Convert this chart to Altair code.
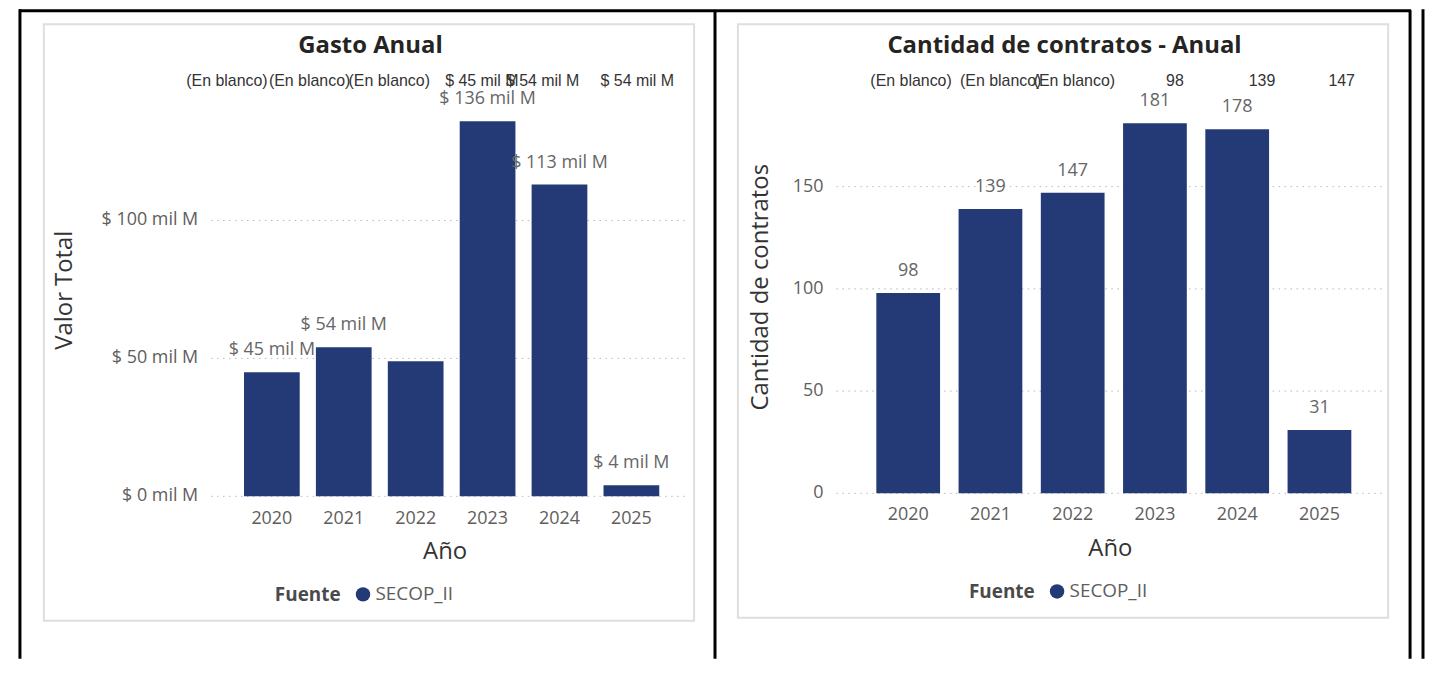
import altair as alt
import pandas as pd

# ---------------- data ----------------
years = ["2020", "2021", "2022", "2023", "2024", "2025"]
gasto = [45, 54, 49, 136, 113, 4]          # valor total, mil M
gasto_labels = ["$ 45 mil M", "$ 54 mil M", "", "$ 136 mil M", "$ 113 mil M", "$ 4 mil M"]
contratos = [98, 139, 147, 181, 178, 31]
contratos_labels = ["98", "139", "147", "181", "178", "31"]
fuente = ["SECOP_II"] * 6
ticks_gasto = [0, 50, 100]
ticks_gasto_labels = ["$ 0 mil M", "$ 50 mil M", "$ 100 mil M"]
ticks_contratos = [0, 50, 100, 150]
ticks_contratos_labels = ["0", "50", "100", "150"]
junk_left = ["(En blanco)", "(En blanco)", "(En blanco)", "$ 45 mil M", "$ 54 mil M", "$ 54 mil M"]
junk_right = ["(En blanco)", "(En blanco)", "(En blanco)", "98", "139", "147"]

# ---------------- style ----------------
W, H = 1424, 652
BAR = "#233a77"
FONT = "Open Sans"
JFONT = "Liberation Sans"
TXT = "#605e5c"
DARK = "#252423"

junk_left_x = [179, 262, 342, 439, 500, 595]
junk_right_x = [866, 956, 1030, 1163, 1246, 1326]

df_left = pd.DataFrame({"Año": years, "Valor": gasto, "Etiqueta": gasto_labels, "Fuente": fuente})
df_right = pd.DataFrame({"Año": years, "Cantidad": contratos, "Etiqueta": contratos_labels, "Fuente": fuente})
one = alt.Data(values=[{}])


def rule(x, x2, y, y2, color="black", width=3):
    m = alt.Chart(one).mark_rule(color=color, strokeWidth=width)
    return m.encode(x=alt.value(x), x2=alt.value(x2), y=alt.value(y), y2=alt.value(y2))


def card(x, x2, y, y2):
    return alt.Chart(one).mark_rect(fill="white", stroke="#dedede", strokeWidth=2).encode(
        x=alt.value(x), x2=alt.value(x2), y=alt.value(y), y2=alt.value(y2))


def text(s, x, y, size, font=FONT, color=DARK, weight="normal", align="center", angle=0):
    return alt.Chart(one).mark_text(text=s, font=font, fontSize=size, color=color, fontWeight=weight,
                                    align=align, baseline="middle", angle=angle).encode(
        x=alt.value(x), y=alt.value(y))


def legend(x, y):
    return alt.Legend(orient="none", legendX=x, legendY=y, direction="horizontal", title="Fuente",
                      titleOrient="left", titleFont=FONT, titleFontSize=19, titleFontWeight="bold",
                      titleColor="#4a4a4a", titleBaseline="middle", titlePadding=12,
                      labelFont=FONT, labelFontSize=19, labelColor=TXT, labelOffset=3,
                      symbolType="circle", symbolSize=210, symbolStrokeWidth=0)


def panel(df, field, yticks, ytick_labels, xrange, yrange, ydomain, ylab_x, year_y, gx, leg):
    xs = alt.Scale(range=xrange, paddingInner=0.225, paddingOuter=0)
    ys = alt.Scale(domain=ydomain, range=yrange, nice=False, zero=True)
    x = alt.X("Año:N", sort=years, scale=xs, axis=None)
    y = alt.Y(f"{field}:Q", scale=ys, axis=None)
    ticks_df = pd.DataFrame({"v": yticks, "lab": ytick_labels})

    grid = alt.Chart(ticks_df).mark_rule(
        color="#b8b8b8", strokeDash=[1.5, 4.5], strokeWidth=1).encode(
        y=alt.Y("v:Q", scale=ys, axis=None), x=alt.value(gx[0]), x2=alt.value(gx[1]))
    ylabels = alt.Chart(ticks_df).mark_text(
        font=FONT, fontSize=18, color=TXT, align="right", baseline="middle").encode(
        y=alt.Y("v:Q", scale=ys, axis=None), x=alt.value(ylab_x), text="lab:N")
    bars = alt.Chart(df).mark_bar().encode(
        x=x, y=y,
        color=alt.Color("Fuente:N", scale=alt.Scale(domain=["SECOP_II"], range=[BAR]), legend=leg))
    xlabels = alt.Chart(df).mark_text(
        font=FONT, fontSize=18, color=TXT, baseline="middle").encode(
        x=x, y=alt.value(year_y), text="Año:N")
    labels = alt.Chart(df).transform_filter("datum.Etiqueta != ''").mark_text(
        font=FONT, fontSize=18, color="#666666", baseline="middle", dy=-22).encode(
        x=x, y=y, text="Etiqueta:N")
    return alt.layer(grid, ylabels, bars, xlabels, labels)


left = panel(df_left, "Valor", ticks_gasto, ticks_gasto_labels, [237, 654], [489, 212], [0, 100],
             191, 512, (204, 682), legend(268, 578))
right = panel(df_right, "Cantidad", ticks_contratos, ticks_contratos_labels, [872, 1349], [486, 178],
              [0, 150], 819, 508, (832, 1382), legend(965, 575))

decor = [
    # table borders
    rule(11, 1409, 1.5, 1.5),
    rule(12, 12, 0, H),
    rule(710, 710, 1, H),
    rule(1408, 1408, 1, H),
    rule(1421, 1421, 0, H),
    # cards
    card(36, 689, 15, 614),
    card(733, 1386, 15, 611),
]

texts = [
    text("Gasto Anual", 364, 37, 24, weight="bold"),
    text("Cantidad de contratos - Anual", 1061, 37, 24, weight="bold"),
    text("Valor Total", 57, 282, 24, color="#333333", angle=270),
    text("Cantidad de contratos", 756, 279, 24, color="#333333", angle=270),
    text("Año", 439, 545, 24, color="#333333"),
    text("Año", 1107, 542, 24, color="#333333"),
]
for s, px in zip(junk_left, junk_left_x):
    texts.append(text(s, px, 72, 16, font=JFONT, color="#333333", align="left"))
for s, px in zip(junk_right, junk_right_x):
    texts.append(text(s, px, 72, 16, font=JFONT, color="#333333", align="left"))

chart = alt.layer(*decor, left, right, *texts).resolve_scale(
    x="independent", y="independent", color="independent"
).resolve_legend(color="independent").properties(
    width=W, height=H, padding=0, autosize=alt.AutoSizeParams(type="none")
).configure_view(stroke="transparent")

chart.save("out.html", embed_options={"renderer": "svg", "actions": False})
